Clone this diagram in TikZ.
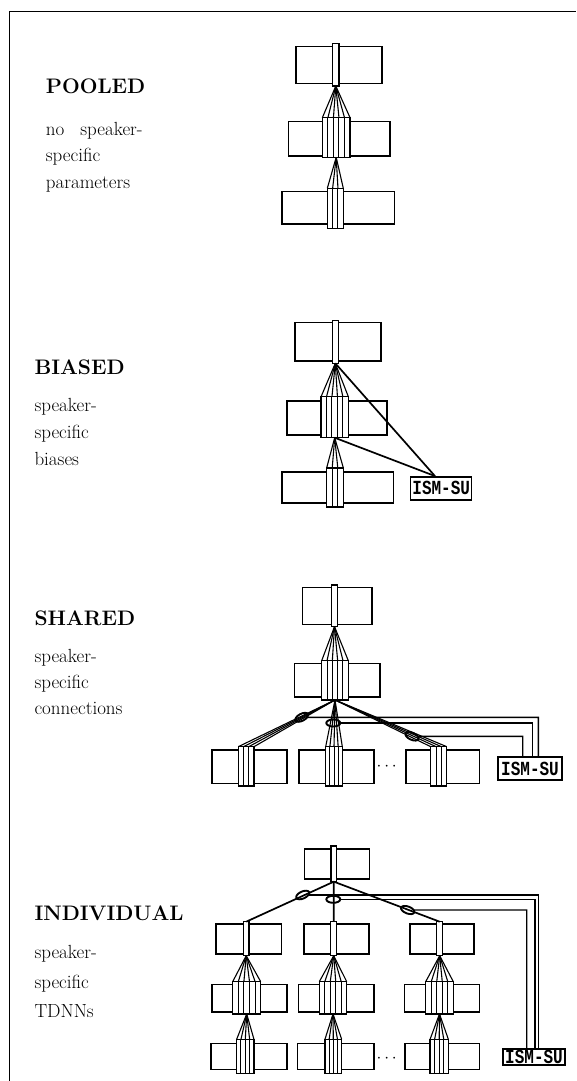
\documentclass[tikz,border=0pt]{standalone}
\usepackage{fontspec}
\newfontfamily\ismfont{Liberation Mono}
\usetikzlibrary{calc,shapes.geometric}

\tikzset{
  lbox/.style={draw, rectangle, line width=1.6pt, inner sep=0pt, outer sep=0pt},
  sblock/.style={draw, rectangle, fill=white, line width=1.5pt, inner sep=0pt, outer sep=0pt},
  stripe/.style={line width=1pt},
  fanline/.style={line width=1.1pt},
  link/.style={line width=1.7pt},
  wire/.style={line width=1.4pt},
  ring/.style={draw, ellipse, line width=1.9pt, minimum width=14pt, minimum height=7pt, inner sep=0pt, outer sep=0pt},
  ism/.style={draw, rectangle, line width=1.5pt, inner xsep=1pt, inner ysep=1pt,
    font=\ismfont\bfseries\fontsize{16}{16}\selectfont},
  head/.style={anchor=base west, inner sep=0pt, font=\bfseries\fontsize{21}{21}\selectfont},
  body/.style={anchor=base west, inner sep=0pt, font=\fontsize{19}{19}\selectfont},
  dotsnode/.style={inner sep=0pt, font=\fontsize{16}{16}\selectfont},
}
\newcommand\ismtext{\scalebox{1}[1.25]{ISM-SU}}

% plain layer box: name, cx, cy, width, height
\newcommand\lbx[5]{\node[lbox, minimum width=#4pt, minimum height=#5pt] (#1) at (#2,#3) {};}
% striped unit block: name, cx, cy, width, height, number of columns
\newcommand\sbk[6]{%
  \node[sblock, minimum width=#4pt, minimum height=#5pt] (#1) at (#2,#3) {};
  \ifnum#6>1
    \pgfmathtruncatemacro\nlast{#6-1}%
    \foreach \k in {1,...,\nlast}{%
      \draw[stripe] ($(#1.north west)!{\k/#6}!(#1.north east)$) -- ($(#1.south west)!{\k/#6}!(#1.south east)$);}%
  \fi}
% fan of connections: upper block, lower block, number of columns of the lower block
\newcommand\fan[3]{%
  \foreach \k in {0,...,#3}{%
    \draw[fanline] (#1.south) -- ($(#2.north west)!{\k/#3}!(#2.north east)$);}}

\begin{document}
\begin{tikzpicture}[x=1pt, y=-1pt]
\useasboundingbox (0,0) rectangle (576,1081);

% frame
\draw[line width=1.4pt] (9.3,1081) -- (9.3,11.7) -- (576,11.7);

% ---------- POOLED ----------
\node[head] (tpool) at (45.7,93.3) {POOLED};
\node[body] (tpool1) at (45.7,135) {no\hspace{16pt}speaker-};
\node[body] (tpool2) at (45.7,161.7) {specific};
\node[body] (tpool3) at (45.7,188.3) {parameters};

\lbx{pa}{338.7}{65}{86}{36.6}
\sbk{pab}{335.8}{64.7}{6.3}{42.7}{1}
\lbx{pb}{339.2}{138.8}{101.7}{34.3}
\sbk{pbb}{336.2}{137.5}{27.7}{39.6}{5}
\lbx{pc}{338}{207.8}{112.6}{32.3}
\sbk{pcb}{335.3}{208.3}{16}{40}{3}
\fan{pab}{pbb}{5}
\fan{pbb}{pcb}{3}

% ---------- BIASED ----------
\node[head] (tbias) at (34.3,374) {BIASED};
\node[body] (tbias1) at (34.3,411.7) {speaker-};
\node[body] (tbias2) at (34.3,438.3) {specific};
\node[body] (tbias3) at (34.3,465) {biases};

\lbx{ba}{337.9}{341.8}{85.7}{38.3}
\sbk{bab}{335.3}{342}{6}{42.6}{1}
\lbx{bb}{336.7}{418}{100}{34}
\sbk{bbb}{334.7}{417.2}{27.3}{41}{5}
\lbx{bc}{337.5}{487.5}{111.6}{31.5}
\sbk{bcb}{335}{487.5}{16.6}{39.4}{3}
\fan{bab}{bbb}{5}
\fan{bbb}{bcb}{3}
\node[ism, minimum width=61pt, minimum height=23pt] (bism) at (441.2,488.3) {\ismtext};
\coordinate (bend) at ($(bism.north west)!0.4!(bism.north east)$);
\draw[link] (bab.south) -- (bend);
\draw[link] (bbb.south) -- (bend);

% ---------- SHARED ----------
\node[head] (tshar) at (34.3,625) {SHARED};
\node[body] (tshar1) at (34.3,662) {speaker-};
\node[body] (tshar2) at (34.3,688) {specific};
\node[body] (tshar3) at (34.3,714) {connections};

\lbx{sa}{337.2}{605.8}{69.7}{37}
\sbk{sab}{334.5}{605.8}{5.6}{41.7}{1}
\lbx{sb}{337.2}{680}{85.7}{33.4}
\sbk{sbb}{335}{680.3}{26.6}{39.3}{5}
\fan{sab}{sbb}{5}

\lbx{sc1}{249.2}{766.7}{75}{33.3}
\sbk{sc1b}{246.2}{766.3}{15.7}{39.3}{3}
\lbx{sc2}{336.5}{766.7}{75}{33.3}
\sbk{sc2b}{334}{766.3}{16.6}{39.3}{4}
\lbx{sc3}{442.5}{766.7}{73.6}{33.3}
\sbk{sc3b}{438.7}{766.3}{16}{39.3}{3}
\fan{sbb}{sc1b}{3}
\fan{sbb}{sc2b}{4}
\fan{sbb}{sc3b}{3}
\node[dotsnode] (sdots) at (386.7,767) {$\cdots$};

\node[ring, rotate=28] (sr1) at (301.7,717.3) {};
\node[ring] (sr2) at (333.3,723) {};
\node[ring, rotate=-24] (sr3) at (412,736.3) {};
\node[ism, minimum width=64pt, minimum height=23pt] (sism) at (530,768.5) {\ismtext};
\coordinate (sw1) at (538.3,717.3);
\coordinate (sw2) at (532.7,723);
\coordinate (sw3) at (522.7,736.3);
\draw[wire] (sr1) -- (sw1) -- (sw1 |- sism.north);
\draw[wire] (sr2) -- (sw2) -- (sw2 |- sism.north);
\draw[wire] (sr3) -- (sw3) -- (sw3 |- sism.north);

% ---------- INDIVIDUAL ----------
\node[head] (tind) at (34.3,920) {INDIVIDUAL};
\node[body] (tind1) at (34.3,958) {speaker-};
\node[body] (tind2) at (34.3,988) {specific};
\node[body] (tind3) at (34.3,1017) {TDNNs};

\lbx{ia}{336.8}{864}{65}{30}
\sbk{iab}{333.8}{863.8}{5.7}{35.7}{1}

\lbx{i1a}{248.8}{939}{65.7}{30}
\sbk{i1ab}{246.2}{938.7}{5.7}{34}{1}
\lbx{i2a}{336.5}{939}{65}{30}
\sbk{i2ab}{333.7}{938.7}{6}{34}{1}
\lbx{i3a}{442}{939}{64}{30}
\sbk{i3ab}{439.7}{938.7}{6}{34}{1}

\lbx{i1b}{249.2}{998}{75}{27.4}
\sbk{i1bb}{246.7}{997.8}{28}{32.3}{5}
\lbx{i2b}{336.2}{998}{75.7}{27.4}
\sbk{i2bb}{333}{997.8}{27.4}{32.3}{5}
\lbx{i3b}{441.8}{998}{75}{27.4}
\sbk{i3bb}{439.5}{997.8}{27.6}{32.3}{5}

\lbx{i1c}{248.7}{1056.3}{76}{26}
\sbk{i1cb}{245.3}{1056.3}{17.3}{34}{4}
\lbx{i2c}{335.8}{1056.3}{76.3}{26}
\sbk{i2cb}{333.3}{1056.3}{16.7}{34}{4}
\lbx{i3c}{442.2}{1056.3}{74.3}{26}
\sbk{i3cb}{439.2}{1056.3}{18.3}{34}{4}
\node[dotsnode] (idots) at (386.7,1058.3) {$\cdots$};

\draw[link] (iab.south) -- (i1ab.north);
\draw[link] (iab.south) -- (i2ab.north);
\draw[link] (iab.south) -- (i3ab.north);
\fan{i1ab}{i1bb}{5}
\fan{i2ab}{i2bb}{5}
\fan{i3ab}{i3bb}{5}
\fan{i1bb}{i1cb}{4}
\fan{i2bb}{i2cb}{4}
\fan{i3bb}{i3cb}{4}

\node[ring, rotate=24.5] (ir1) at (302.7,895) {};
\node[ring] (ir2) at (333.3,899.3) {};
\node[ring, rotate=-20.7] (ir3) at (407.7,910) {};
\node[ism, minimum width=62pt, minimum height=16pt, inner ysep=0pt] (iism) at (534,1057.2) {\ismtext};
\coordinate (iw1) at (538.3,895);
\coordinate (iw2) at (535,899.3);
\coordinate (iw3) at (526.7,910);
\draw[wire] (ir1) -- (iw1) -- (iw1 |- iism.north);
\draw[wire] (ir2) -- (iw2) -- (iw2 |- iism.north);
\draw[wire] (ir3) -- (iw3) -- (iw3 |- iism.north);
\end{tikzpicture}
\end{document}
